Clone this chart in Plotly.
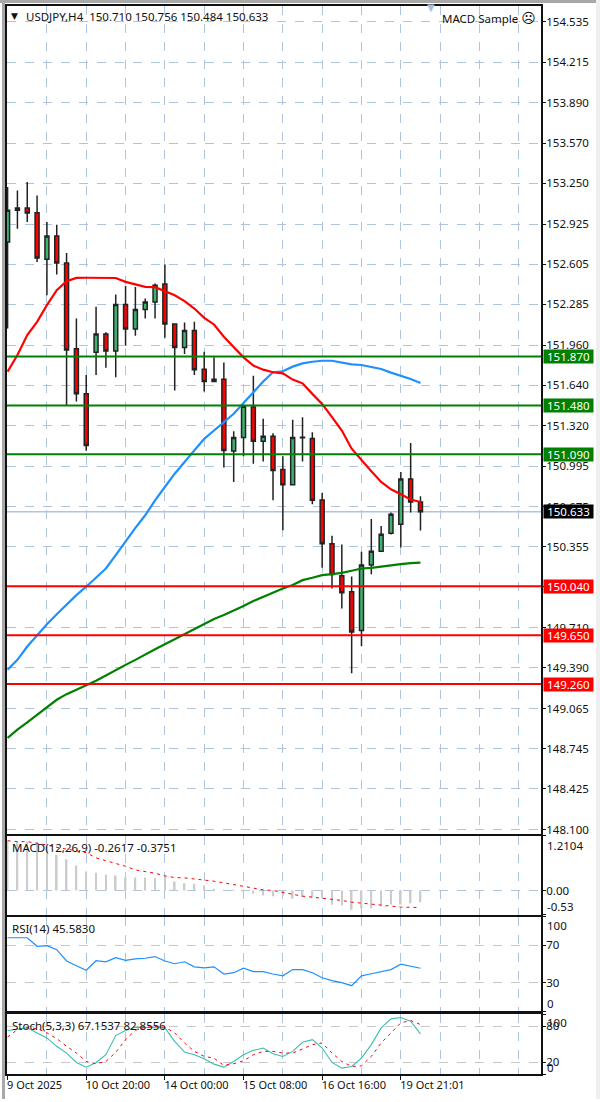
import plotly.graph_objects as go
from plotly.subplots import make_subplots

W, H = 600, 1102

open_ = [152.782,153.034,153.052,153.015,152.644,152.830,152.615,151.932,151.572,151.903,152.048,151.913,152.284,152.088,152.244,152.303,152.448,152.128,151.942,152.077,151.768,151.670,151.688,151.116,151.225,151.468,151.195,151.235,150.970,150.848,151.227,151.217,150.727,150.377,150.123,149.996,149.686,150.208,150.319,150.462,150.533,150.894,150.710]
high = [153.219,153.192,153.259,153.153,152.941,152.920,152.695,152.173,151.723,152.266,152.062,152.363,152.432,152.424,152.332,152.451,152.602,152.128,152.141,152.146,151.908,151.863,151.821,151.275,151.484,151.717,151.373,151.259,151.076,151.365,151.386,151.267,150.782,150.441,150.372,150.118,150.314,150.576,150.520,150.626,150.949,151.180,150.756]
low = [152.093,152.888,152.941,152.623,152.358,152.522,151.484,151.511,151.119,151.723,151.781,151.704,151.956,152.035,152.173,152.173,152.019,151.598,151.889,151.723,151.590,151.664,150.986,150.870,151.076,151.015,151.034,150.724,150.486,150.848,151.034,150.692,150.186,150.022,149.863,149.347,149.562,150.136,150.314,150.451,150.348,150.626,150.484]
close = [153.034,153.052,153.012,152.655,152.830,152.615,151.921,151.572,151.161,152.048,151.913,152.284,152.088,152.244,152.303,152.438,152.128,151.942,152.077,151.765,151.670,151.688,151.121,151.225,151.473,151.195,151.235,150.962,150.848,151.225,151.222,150.724,150.377,150.133,149.988,149.675,150.208,150.319,150.454,150.613,150.894,150.711,150.633]

ma_red = [151.749,151.882,152.040,152.146,152.279,152.398,152.469,152.496,152.497,152.497,152.496,152.495,152.464,152.443,152.424,152.422,152.390,152.358,152.311,152.252,152.178,152.125,152.027,151.945,151.863,151.797,151.765,151.744,151.736,151.686,151.656,151.572,151.492,151.386,151.280,151.135,151.042,150.955,150.870,150.812,150.772,150.730,150.711]
ma_blue = [149.374,149.453,149.559,149.652,149.736,149.816,149.895,149.969,150.036,150.107,150.181,150.287,150.398,150.504,150.605,150.724,150.830,150.936,151.029,151.121,151.214,151.280,151.345,151.413,151.500,151.585,151.670,151.744,151.752,151.789,151.815,151.828,151.836,151.836,151.823,151.807,151.802,151.789,151.770,151.741,151.717,151.691,151.659]
ma_green = [148.831,148.897,148.955,149.016,149.074,149.135,149.180,149.215,149.246,149.286,149.329,149.374,149.413,149.453,149.498,149.538,149.577,149.617,149.657,149.699,149.739,149.779,149.810,149.845,149.882,149.922,149.956,149.990,150.022,150.049,150.088,150.107,150.128,150.136,150.146,150.163,150.181,150.186,150.197,150.207,150.215,150.223,150.228]

macd_hist = [1.10,1.09,1.08,1.07,0.97,0.79,0.69,0.55,0.42,0.39,0.35,0.33,0.29,0.29,0.29,0.28,0.31,0.198,0.16,0.147,0.11,0.037,0.015,0.005,-0.01,-0.073,-0.11,-0.125,-0.11,-0.18,-0.147,-0.16,-0.16,-0.316,-0.33,-0.425,-0.40,-0.39,-0.345,-0.31,-0.31,-0.28,-0.2617]
macd_signal = [1.10,1.08,1.08,1.05,1.005,0.954,0.917,0.88,0.837,0.72,0.66,0.587,0.536,0.455,0.426,0.382,0.323,0.286,0.279,0.257,0.235,0.206,0.169,0.132,0.095,0.05,0.015,0.0,-0.044,-0.095,-0.125,-0.147,-0.169,-0.198,-0.22,-0.257,-0.279,-0.308,-0.338,-0.352,-0.367,-0.372,-0.3751]
rsi = [78,78,78,68.9,69.6,65.3,53.3,48.2,43.5,53.6,52.5,56.9,54,55.5,56.2,58,53.3,50.4,52.5,47.1,46,47.1,39.5,40.9,45.6,42,42,39.5,37.6,44.2,44.2,40.9,35.5,32.5,30.4,27.1,37.6,39.8,41.6,44.2,50,47.8,45.583]
stoch_k = [72.7,74.4,77.2,68.8,60.4,46.4,35.1,19.4,11.6,19.4,32.3,64.3,72.7,78.3,78.3,78.3,77.2,54.8,36.8,32.3,25.6,16.6,11.6,21.1,32.3,39.6,43.5,34,29.5,37.9,53.1,57.6,43.5,19.4,9.9,12.7,26.7,49.2,77.2,92.3,94.6,88.4,67.1537]
stoch_d = [62,74.4,77.2,76.1,68.8,59.3,46.4,35.1,21.1,17.2,21.1,36.3,57.6,73.3,78.3,80,78.3,68.8,52,37.9,29.5,26.7,14.4,17.2,22.2,32.3,37.9,37.9,35.1,35.1,41.9,49.2,52,35.1,21.1,12.7,13.8,29.5,52,68.8,85.6,89.5,82.8556]

price_ticks = [154.535,154.215,153.890,153.570,153.250,152.925,152.605,152.285,151.960,151.640,151.320,150.995,150.675,150.355,150.035,149.710,149.390,149.065,148.745,148.425,148.100]
date_ticks = [0, 8, 16, 24, 32, 40]
date_labels = ["9 Oct 2025","10 Oct 20:00","14 Oct 00:00","15 Oct 08:00","16 Oct 16:00","19 Oct 21:01"]
grid_extra = [4,12,20,28,36,44,48,52]
support_levels = [150.04,149.65,149.26]
resist_levels = [151.87,151.48,151.09]
last_price = 150.633

FONT = "Noto Sans"
GRID = "#B0C4DE"
GRIDG = "#C8C8C8"
TXT = "#111111"
xs = list(range(len(close)))

fig = make_subplots(rows=4, cols=1, vertical_spacing=0.01)

fig.add_trace(go.Candlestick(x=xs, open=open_, high=high, low=low, close=close,
    increasing=dict(line=dict(color="#222222", width=1.5), fillcolor="#3CB371"),
    decreasing=dict(line=dict(color="#222222", width=1.5), fillcolor="#FF0000"),
    whiskerwidth=0), 1, 1)
for vals, col in ((ma_green,"#008000"),(ma_blue,"#1E90FF"),(ma_red,"#FF0000")):
    fig.add_trace(go.Scatter(x=xs, y=vals, mode="lines", line=dict(color=col, width=2.2)), 1, 1)

fig.add_trace(go.Bar(x=xs, y=macd_hist, marker=dict(color="#CCCCCC", line_width=0), width=0.17), 2, 1)
fig.add_trace(go.Scatter(x=xs, y=macd_signal, mode="lines", line=dict(color="#FF0000", width=1, dash="3px,4px")), 2, 1)
fig.add_trace(go.Scatter(x=xs, y=rsi, mode="lines", line=dict(color="#1E90FF", width=1.2)), 3, 1)
fig.add_trace(go.Scatter(x=xs, y=stoch_k, mode="lines", line=dict(color="#3CBDB0", width=1.1)), 4, 1)
fig.add_trace(go.Scatter(x=xs, y=stoch_d, mode="lines", line=dict(color="#FF0000", width=1, dash="3px,4px")), 4, 1)

def dom(top, bottom):
    return [1 - bottom / H, 1 - top / H]

xr = [-0.06, 54.26]
for n, (top, bottom) in enumerate(((6,836),(838,917),(919.5,1014),(1017,1077)), start=1):
    last = n == 4
    fig.update_layout({f"xaxis{n}": dict(
        domain=[7/W, 541/W], range=xr, showline=True, mirror=True, linecolor="#111111", linewidth=2,
        tickmode="array", tickvals=date_ticks, ticktext=date_labels if last else [""]*6,
        showticklabels=last, ticks="outside" if last else "", ticklen=4, tickcolor="#111111", tickwidth=1,
        ticklabelposition="outside right" if last else "outside", ticklabelshift=-2 if last else 0,
        tickfont=dict(family=FONT, size=11, color=TXT),
        showgrid=True, gridcolor=GRID, griddash="dash", gridwidth=1, zeroline=False,
        rangeslider=dict(visible=False),
        minor=dict(tickmode="array", tickvals=grid_extra, showgrid=True, gridcolor=GRID, griddash="dash", gridwidth=1, ticks=""),
    ), f"yaxis{n}": dict(
        domain=dom(top, bottom), side="right", showline=True, mirror=True, linecolor="#111111", linewidth=2,
        ticks="outside", ticklen=3, tickcolor="#111111", tickwidth=1, zeroline=False, showgrid=True,
        griddash="dash", gridwidth=1, ticklabelstandoff=-2, tickfont=dict(family=FONT, size=11.5, color=TXT),
    )})

fig.update_yaxes(row=1, col=1, range=[148.068,154.662], tickmode="array", tickvals=price_ticks,
                 ticktext=[f"{v:.3f}" for v in price_ticks], gridcolor=GRID)
fig.update_yaxes(row=2, col=1, range=[-0.53,1.2104], tickmode="array", tickvals=[-0.53,0,1.2104],
                 ticktext=["","0.00",""], gridcolor=GRID)
fig.update_yaxes(row=3, col=1, range=[0,100], tickmode="array", tickvals=[0,30,70,100],
                 ticktext=["","30","70",""], gridcolor=GRIDG)
fig.update_yaxes(row=4, col=1, range=[0,100], tickmode="array", tickvals=[0,20,80,100],
                 ticktext=["","20","80",""], gridcolor=GRIDG)

shapes = []
# window chrome
shapes.append(dict(type="rect", xref="paper", yref="paper", x0=2/W, x1=5/W, y0=0, y1=1, fillcolor="#A8A8A8", line_width=0, layer="below"))
shapes.append(dict(type="rect", xref="paper", yref="paper", x0=0, x1=1, y0=1-3/H, y1=1, fillcolor="#A8A8A8", line_width=0, layer="below"))
shapes.append(dict(type="rect", xref="paper", yref="paper", x0=596/W, x1=1, y0=0, y1=1, fillcolor="#EFEFEF", line_width=0, layer="below"))
shapes.append(dict(type="line", xref="x domain", yref="y", x0=0, x1=1, y0=last_price, y1=last_price, line=dict(color=GRID, width=1.5), layer="below"))
for v in resist_levels:
    shapes.append(dict(type="line", xref="x domain", yref="y", x0=0, x1=1, y0=v, y1=v, line=dict(color="#008000", width=2)))
for v in support_levels:
    shapes.append(dict(type="line", xref="x domain", yref="y", x0=0, x1=1, y0=v, y1=v, line=dict(color="#FF0000", width=2)))

ann = []
def text(s, x, y, size=11.5, color=TXT, family=FONT, anchor="left"):
    ann.append(dict(text=s, xref="paper", yref="paper", x=x/W, y=1-y/H, xanchor=anchor, yanchor="middle",
                    showarrow=False, font=dict(family=family, size=size, color=color)))

def price_box(v, col):
    ann.append(dict(text=f"{v:.3f}", xref="paper", yref="y", x=568/W, y=v, xanchor="center", yanchor="middle",
                    showarrow=False, bgcolor=col, width=49, height=13, borderpad=0,
                    font=dict(family=FONT, size=11.5, color="#FFFFFF")))
for v in resist_levels:
    price_box(v, "#008000")
for v in support_levels:
    price_box(v, "#FF0000")
price_box(last_price, "#000000")

text("▼", 9, 16, size=9, color="#111111", family="DejaVu Sans")
text("USDJPY,H4&nbsp;&nbsp;150.710 150.756 150.484 150.633", 24, 16.5)
text("▼", 425, 8, size=10, color="#A9BEDA", family="DejaVu Sans")
text("MACD Sample <span style='font-family:DejaVu Sans;font-size:14px'>☹</span>", 440, 18)
text("MACD(12,26,9) -0.2617 -0.3751", 10, 850)
text("RSI(14) 45.5830", 10, 931)
text("Stoch(5,3,3) 67.1537 82.8556", 10, 1028)
# labels of the pane end values sit just inside the pane
text("1.2104", 545, 848); text("-0.53", 545, 909)
text("100", 545, 928); text("0", 545, 1006)
text("100", 545, 1025); text("0", 545, 1070)

fig.update_layout(width=W, height=H, margin=dict(l=0, r=0, t=0, b=0), autosize=False,
                  paper_bgcolor="#FFFFFF", plot_bgcolor="#FFFFFF", showlegend=False,
                  boxgap=0.42, hovermode=False, shapes=shapes, annotations=ann,
                  font=dict(family=FONT, size=11, color=TXT))

fig.write_html("out.html", config=dict(displayModeBar=False),
               post_script="document.body.style.margin='0';document.body.style.overflow='hidden';")
